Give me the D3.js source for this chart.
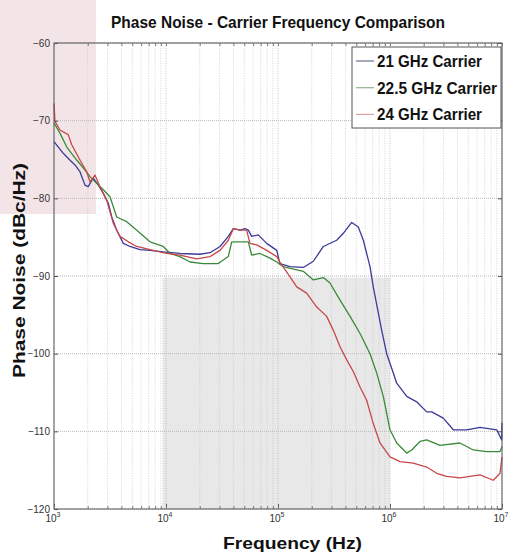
<!DOCTYPE html>
<html><head><meta charset="utf-8">
<script src="https://cdn.jsdelivr.net/npm/d3@7"></script>
<style>
html,body{margin:0;padding:0;background:#fff;}
svg{display:block;}
</style>
</head><body>
<svg id="chart" width="513" height="555"></svg>
<script>
// ---- data (frequency in Hz, phase noise in dBc/Hz) ----
const seriesNames = ["21 GHz Carrier", "22.5 GHz Carrier", "24 GHz Carrier"];
const seriesColors = ["#3a3a9a", "#3a8a3a", "#c84848"];
const legendLineColors = ["#6a6f8c", "#8fb38f", "#d9a3a3"];

const blueFreq = [1000,1210,1390,1540,1710,1890,2020,2240,2490,2760,3050,3280,3630,4160,4770,5860,7200,9460,13300,20100,24700,30400,36000,39900,45800,50700,54300,58200,66700,79300,97400,104000,128000,168000,207000,254000,334000,383000,455000,521000,578000,663000,709000,843000,934000,1070000,1148000,1410000,1731000,2127000,2357000,2991000,3675000,4840000,6362000,8968000,9940000,10000000];
const blueVal  = [-72.7,-74.2,-75.1,-75.7,-76.6,-78.3,-78.5,-77.4,-78.3,-79.4,-80.6,-82.4,-84.1,-85.8,-86.2,-86.6,-86.7,-86.9,-87.1,-87.2,-87.0,-86.2,-84.9,-83.9,-84.1,-83.9,-84.1,-84.9,-84.7,-85.8,-86.7,-88.4,-88.8,-88.9,-88.1,-86.2,-85.4,-84.5,-83.1,-83.7,-85.4,-88.8,-91.4,-97.0,-100.0,-102.5,-103.8,-105.5,-106.2,-107.5,-107.5,-108.3,-109.8,-109.8,-109.5,-109.8,-111.1,-108.9];

const greenFreq = [1000,1130,1300,1600,1830,2100,2410,2760,3160,3630,4460,5480,7200,9460,10900,13300,16400,21500,29300,36000,38600,45800,54300,58200,69100,84800,97400,111000,168000,207000,254000,291000,358000,440000,540000,663000,761000,871000,1000000,1148000,1410000,1562000,1853000,2127000,2795000,4217000,5544000,7302000,9597000,10000000];
const greenVal  = [-70.3,-71.6,-73.4,-75.1,-76.1,-77.2,-78.1,-78.9,-79.8,-82.4,-83.0,-84.1,-85.6,-86.2,-87.1,-87.5,-88.2,-88.4,-88.4,-87.5,-85.6,-85.6,-85.6,-87.3,-87.1,-87.7,-88.2,-88.8,-89.4,-90.5,-90.2,-90.9,-93.1,-95.2,-97.4,-100.0,-102.5,-105.5,-109.8,-111.5,-112.8,-112.4,-111.3,-111.1,-111.8,-111.5,-112.4,-112.6,-112.6,-112.0];

const redFreq = [1000,1020,1130,1340,1440,1710,1960,2100,2320,2575,2950,3380,3880,4610,5480,7200,10100,13300,18800,24700,30400,36000,39900,45800,52500,56200,64500,79300,97400,104000,128000,147000,180000,222000,272000,312000,358000,411000,470000,540000,619000,709000,814000,1000000,1228000,1614000,2127000,2612000,3208000,4217000,6362000,8362000,9597000,10000000];
const redVal  = [-67.8,-70.1,-71.2,-71.8,-73.1,-75.1,-76.6,-77.9,-77.0,-78.5,-80.2,-83.2,-84.9,-85.6,-86.2,-86.6,-87.1,-87.3,-87.8,-87.5,-86.7,-85.4,-83.9,-84.1,-84.1,-85.8,-86.0,-86.7,-87.5,-88.2,-90.1,-91.4,-92.2,-94.0,-95.2,-97.0,-99.1,-100.8,-102.3,-104.3,-106.0,-109.0,-111.5,-113.3,-113.9,-114.1,-114.6,-115.4,-115.8,-116.0,-115.6,-116.3,-115.4,-113.3];

const yTicks = [-60,-70,-80,-90,-100,-110,-120];
const xDecades = [3,4,5,6,7];

const titleText = "Phase Noise - Carrier Frequency Comparison";
const xLabelText = "Frequency (Hz)";
const yLabelText = "Phase Noise (dBc/Hz)";

// ---- layout ----
const svg = d3.select("#chart");
const L = 54, R = 502, T = 43, B = 509;

const x = d3.scaleLog().domain([1e3, 1e7]).range([L, R]);
const y = d3.scaleLinear().domain([-120, -60]).range([B, T]);

// background artefact rectangles seen in reference
svg.append("rect").attr("x", 0).attr("y", 0).attr("width", 96).attr("height", 214).attr("fill", "#f3e5e7");
svg.append("rect").attr("x", x(9300)).attr("y", y(-90.2)).attr("width", x(1e6) - x(9300)).attr("height", B - y(-90.2)).attr("fill", "#e8e8e8");

// grid
const grid = svg.append("g");
const minorX = [];
for (let d = 3; d < 7; d++) for (let m = 1; m <= 9; m++) minorX.push(m * Math.pow(10, d));
minorX.push(1e7);
grid.selectAll("line.vx").data(minorX).enter().append("line")
  .attr("x1", d => x(d)).attr("x2", d => x(d)).attr("y1", T).attr("y2", B)
  .attr("stroke", d => Number.isInteger(Math.log10(d)) ? "#b5b5b5" : "#c8c8c8")
  .attr("stroke-width", 0.8).attr("stroke-dasharray", "1,1.5");
grid.selectAll("line.hy").data(yTicks).enter().append("line")
  .attr("x1", L).attr("x2", R).attr("y1", d => y(d)).attr("y2", d => y(d))
  .attr("stroke", "#b8b8b8").attr("stroke-width", 1).attr("stroke-dasharray", "1,1");

// curves
const line = d3.line().x(d => x(d[0])).y(d => y(d[1]));
const series = [
  d3.zip(blueFreq, blueVal),
  d3.zip(greenFreq, greenVal),
  d3.zip(redFreq, redVal)
];
const drawOrder = [0, 1, 2];
drawOrder.forEach(i => {
  svg.append("path").datum(series[i]).attr("d", line)
    .attr("fill", "none").attr("stroke", seriesColors[i]).attr("stroke-width", 1.3)
    .attr("stroke-linejoin", "round");
});

// axes box
svg.append("rect").attr("x", L).attr("y", T).attr("width", R - L).attr("height", B - T)
  .attr("fill", "none").attr("stroke", "#555").attr("stroke-width", 1);

// axes with inward ticks
const yAxis = d3.axisLeft(y).tickValues(yTicks).tickSize(-4).tickPadding(6).tickFormat(d3.format("d"));
const gy = svg.append("g").attr("transform", `translate(${L},0)`).call(yAxis);
gy.select(".domain").remove();
gy.selectAll("line").attr("stroke", "#555");
gy.selectAll("text").attr("font-family", "'Liberation Sans Narrow','Liberation Sans',Arial,sans-serif")
  .attr("font-size", 10).attr("fill", "#333").attr("dx", 2);

const gyR = svg.append("g").attr("transform", `translate(${R},0)`)
  .call(d3.axisRight(y).tickValues(yTicks).tickSize(-4).tickFormat(""));
gyR.select(".domain").remove();
gyR.selectAll("line").attr("stroke", "#555");

const xAxis = d3.axisBottom(x).tickValues(xDecades.map(d => Math.pow(10, d))).tickSize(-5).tickFormat("");
const gx = svg.append("g").attr("transform", `translate(0,${B})`).call(xAxis);
gx.select(".domain").remove();
gx.selectAll("line").attr("stroke", "#555");
const gxMinor = svg.append("g").attr("transform", `translate(0,${B})`)
  .call(d3.axisBottom(x).tickValues(minorX).tickSize(-3).tickFormat(""));
gxMinor.select(".domain").remove();
gxMinor.selectAll("line").attr("stroke", "#777");
const gxTop = svg.append("g").attr("transform", `translate(0,${T})`)
  .call(d3.axisTop(x).tickValues(minorX).tickSize(-3).tickFormat(""));
gxTop.select(".domain").remove();
gxTop.selectAll("line").attr("stroke", "#777");

// x tick labels 10^n
const xl = svg.append("g");
xDecades.forEach(d => {
  const t = xl.append("text").attr("x", x(Math.pow(10, d)) - 1).attr("y", 522)
    .attr("text-anchor", "middle")
    .attr("font-family", "'Liberation Sans Narrow','Liberation Sans',Arial,sans-serif")
    .attr("font-size", 10).attr("fill", "#333");
  t.append("tspan").text("10");
  t.append("tspan").attr("dy", -5).attr("font-size", 7).text(String(d));
});

// title & labels
const boldFont = "'Liberation Sans Narrow','Liberation Sans',Arial,sans-serif";
svg.append("text").attr("x", 111).attr("y", 28).text(titleText)
  .attr("font-family", boldFont).attr("font-weight", "bold").attr("font-size", 17)
  .attr("fill", "#111").attr("textLength", 334).attr("lengthAdjust", "spacingAndGlyphs");
svg.append("text").attr("x", 223).attr("y", 549).text(xLabelText)
  .attr("font-family", boldFont).attr("font-weight", "bold").attr("font-size", 17)
  .attr("fill", "#111").attr("textLength", 139).attr("lengthAdjust", "spacingAndGlyphs");
svg.append("text").attr("transform", "translate(25,378) rotate(-90)").text(yLabelText)
  .attr("font-family", boldFont).attr("font-weight", "bold").attr("font-size", 17)
  .attr("fill", "#111").attr("textLength", 215).attr("lengthAdjust", "spacingAndGlyphs");

// legend
const lg = svg.append("g");
lg.append("rect").attr("x", 352).attr("y", 47).attr("width", 149).attr("height", 81)
  .attr("fill", "#fff").attr("stroke", "#555").attr("stroke-width", 1);
const legendWidths = [105, 120, 105];
seriesNames.forEach((name, i) => {
  const by = 67 + i * 26.7;
  lg.append("line").attr("x1", 356).attr("x2", 374).attr("y1", by - 6).attr("y2", by - 6)
    .attr("stroke", legendLineColors[i]).attr("stroke-width", 1.2);
  lg.append("text").attr("x", 377).attr("y", by).text(name)
    .attr("font-family", boldFont).attr("font-weight", "bold").attr("font-size", 16)
    .attr("fill", "#111").attr("textLength", legendWidths[i]).attr("lengthAdjust", "spacingAndGlyphs");
});
</script>
</body></html>
